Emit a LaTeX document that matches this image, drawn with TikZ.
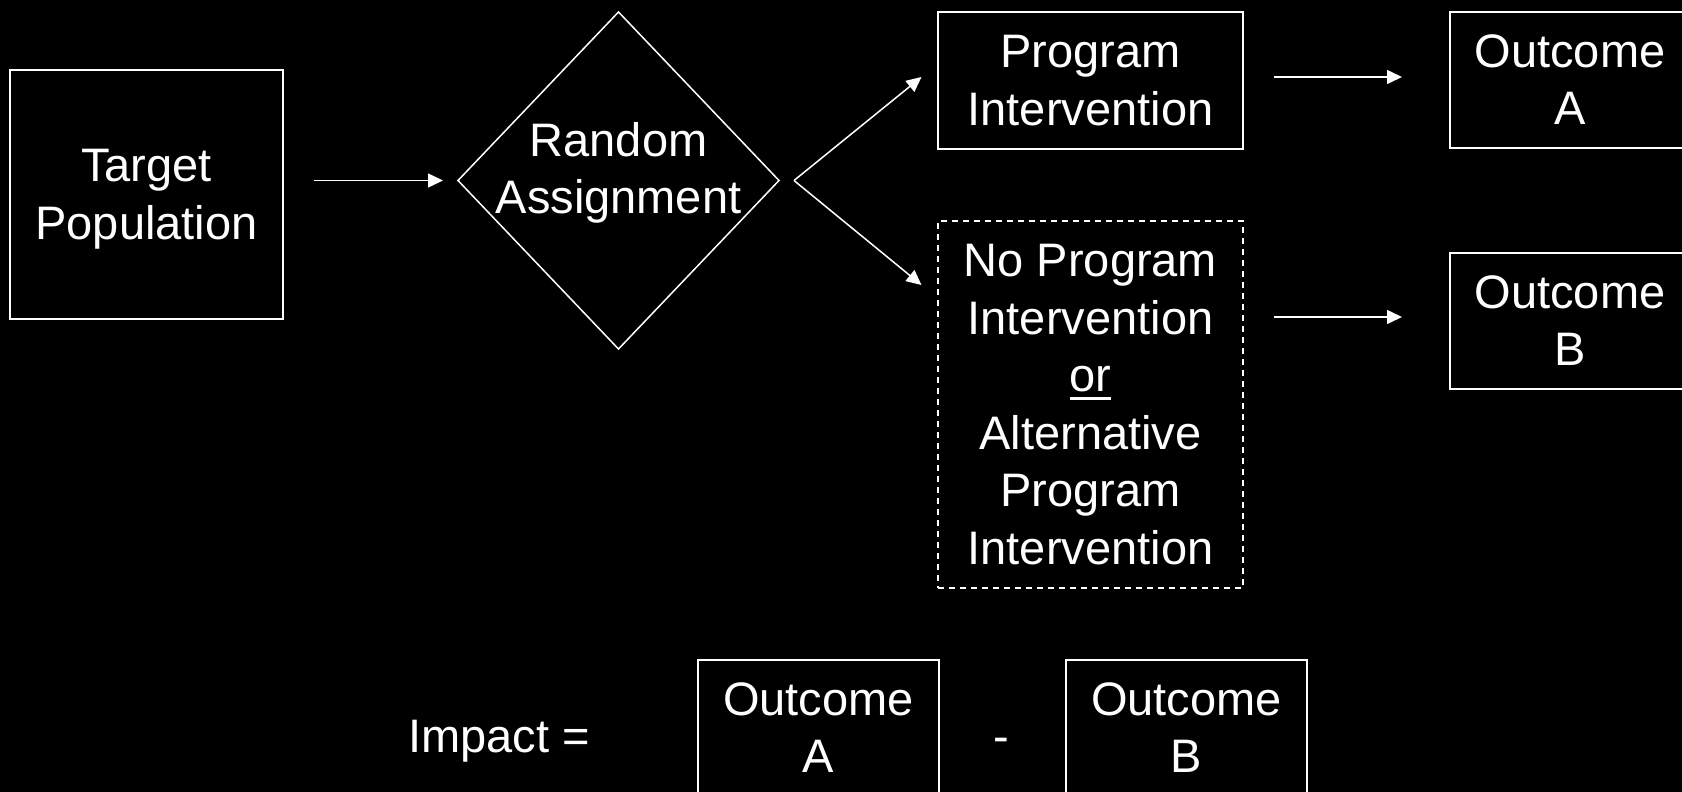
\documentclass[tikz,border=0pt]{standalone}
\usepackage{fontspec}
\setmainfont{Liberation Sans}
\usetikzlibrary{shapes.geometric,arrows.meta}
\newcommand\bigfs{\fontsize{47pt}{57.5pt}\selectfont}
\newcommand\ulor[1]{\setbox0=\hbox{#1}\rlap{\rule[-8pt]{\wd0}{3pt}}\box0}
\newcommand\lines[1]{\begin{tabular}[t]{@{}c@{}}#1\end{tabular}}
\tikzset{
  box/.style={draw=white, line width=1.5pt, inner sep=0pt, outer sep=0pt, text=white, font=\bigfs, rectangle},
  two/.style={text height=34pt, text depth=59.5pt},
  six/.style={text height=34pt, text depth=289.5pt},
  arr/.style={draw=white, line width=1.5pt, -{Triangle[length=15pt,width=14pt]}},
  plain/.style={text=white, font=\bigfs, inner sep=0pt},
}
\begin{document}
\begin{tikzpicture}[x=1pt,y=-1pt]
\path[fill=black, use as bounding box] (0,0) rectangle (1682,792);
\clip (0,0) rectangle (1682,792);
% nodes
\node[box,two,minimum width=273pt,minimum height=249pt] (tp) at (146.5,194.5) {\lines{Target\\Population}};
\node[box,diamond,minimum width=321pt,minimum height=337pt,text height=0pt,text depth=49pt] (ra) at (618.5,180.5) {\lines{Random\\Assignment}};
\node[box,two,minimum width=305pt,minimum height=137pt] (pi) at (1090.5,80.5) {\lines{Program\\Intervention}};
\node[box,six,dash pattern=on 6pt off 5pt,minimum width=305pt,minimum height=367pt] (np) at (1090.5,404.5) {\lines{No Program\\Intervention\\\ulor{or}\\Alternative\\Program\\Intervention}};
\node[box,two,minimum width=240pt,minimum height=136pt] (oa) at (1570,80) {\lines{Outcome\\A}};
\node[box,two,minimum width=240pt,minimum height=136pt] (ob) at (1570,321) {\lines{Outcome\\B}};
\node[plain,anchor=base west] (imp) at (408,752) {Impact =};
\node[box,two,minimum width=241pt,minimum height=136pt] (ia) at (818.5,728) {\lines{Outcome\\A}};
\node[plain,anchor=base] (minus) at (1001,752) {-};
\node[box,two,minimum width=241pt,minimum height=136pt] (ib) at (1186.5,728) {\lines{Outcome\\B}};
% connectors
\coordinate (fork) at ([xshift=15pt]ra.east);
\coordinate (pa) at ([yshift=3.5pt]pi.east);
\coordinate (nb) at ([yshift=4pt]ob.west);
\draw[arr,shorten <=31pt,shorten >=15pt] (tp.east |- ra.west) -- (ra.west);
\draw[arr] (fork) -- ([xshift=-16.5pt,yshift=3.5pt]pi.west);
\draw[arr] (fork) -- ([xshift=-16.5pt,yshift=-64pt]np.north west);
\draw[arr,shorten <=31pt,shorten >=48pt] (pa) -- (pa -| oa.west);
\draw[arr,shorten <=31pt,shorten >=48pt] (nb -| np.east) -- (nb);
\end{tikzpicture}
\end{document}
